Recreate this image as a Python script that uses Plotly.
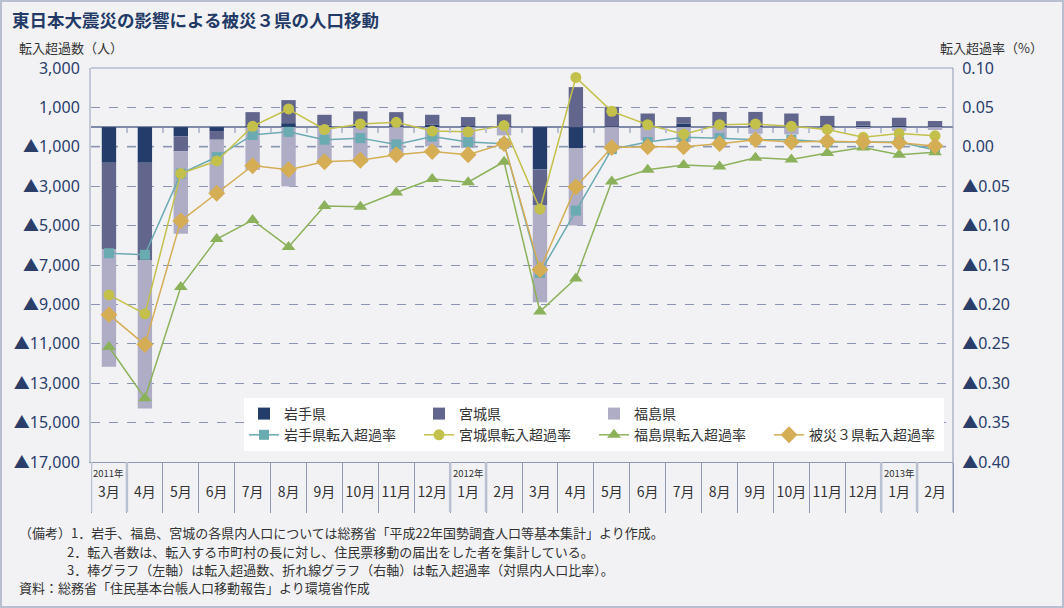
import plotly.graph_objects as go

# ---- data ----
periods = ["2011-03", "2011-04", "2011-05", "2011-06", "2011-07", "2011-08", "2011-09", "2011-10",
           "2011-11", "2011-12", "2012-01", "2012-02", "2012-03", "2012-04", "2012-05", "2012-06",
           "2012-07", "2012-08", "2012-09", "2012-10", "2012-11", "2012-12", "2013-01", "2013-02"]
month_labels = ["3月", "4月", "5月", "6月", "7月", "8月", "9月", "10月", "11月", "12月", "1月", "2月",
                "3月", "4月", "5月", "6月", "7月", "8月", "9月", "10月", "11月", "12月", "1月", "2月"]
year_labels = {"2011-03": "2011年", "2012-01": "2012年", "2013-01": "2013年"}

iwate = [-1810, -1810, -470, -200, 80, 200, 80, 80, 30, 135, 50, 30,
         -2150, -1080, 30, 30, 170, 30, 30, 30, 30, 80, 60, 20]
miyagi = [-4380, -4940, -760, -440, 680, 1170, 545, 720, 730, 490, 460, 615,
          -1830, 2030, 1000, 660, 340, 740, 740, 660, 540, 220, 415, 290]
fukushima = [-5975, -7530, -4180, -2740, -2170, -3010, -1740, -1810, -1320, -980, -1065, -420,
             -4910, -3910, -1050, -680, -760, -590, -340, -370, -150, -60, -200, -150]

rate_iwate = [-0.135, -0.137, -0.034, -0.013, 0.015, 0.019, 0.009, 0.011, 0.003, 0.013, 0.006, 0.004,
              -0.160, -0.081, -0.003, 0.006, 0.012, 0.011, 0.009, 0.009, 0.006, 0.006, 0.006, -0.004]
rate_miyagi = [-0.188, -0.212, -0.034, -0.018, 0.026, 0.048, 0.022, 0.029, 0.031, 0.020, 0.019, 0.027,
               -0.079, 0.088, 0.045, 0.028, 0.016, 0.028, 0.029, 0.026, 0.022, 0.012, 0.017, 0.014]
rate_fukushima = [-0.254, -0.319, -0.178, -0.117, -0.093, -0.127, -0.075, -0.076, -0.058, -0.041, -0.045, -0.019,
                  -0.209, -0.167, -0.044, -0.029, -0.023, -0.025, -0.014, -0.016, -0.008, -0.001, -0.010, -0.007]
rate_total = [-0.213, -0.251, -0.094, -0.059, -0.024, -0.029, -0.019, -0.017, -0.010, -0.006, -0.010, 0.004,
              -0.156, -0.051, -0.001, 0.000, 0.000, 0.004, 0.009, 0.006, 0.007, 0.006, 0.005, 0.001]

left_tickvals = [3000, 1000, -1000, -3000, -5000, -7000, -9000, -11000, -13000, -15000, -17000]
left_ticktext = ["3,000", "1,000", "▲1,000", "▲3,000", "▲5,000", "▲7,000", "▲9,000",
                 "▲11,000", "▲13,000", "▲15,000", "▲17,000"]
right_tickvals = [0.10, 0.05, 0.00, -0.05, -0.10, -0.15, -0.20, -0.25, -0.30, -0.35, -0.40]
right_ticktext = ["0.10", "0.05", "0.00", "▲0.05", "▲0.10", "▲0.15", "▲0.20",
                  "▲0.25", "▲0.30", "▲0.35", "▲0.40"]

title_text = "東日本大震災の影響による被災３県の人口移動"
left_title = "転入超過数（人）"
right_title = "転入超過率（%）"
notes = [
    "（備考）1．岩手、福島、宮城の各県内人口については総務省「平成22年国勢調査人口等基本集計」より作成。",
    "2．転入者数は、転入する市町村の長に対し、住民票移動の届出をした者を集計している。",
    "3．棒グラフ（左軸）は転入超過数、折れ線グラフ（右軸）は転入超過率（対県内人口比率）。",
    "資料：総務省「住民基本台帳人口移動報告」より環境省作成",
]

# ---- layout geometry ----
W, H = 1064, 608
ML, MR, MT, MB = 91, 111, 68, 146
PW, PH = W - ML - MR, H - MT - MB


def fx(px):
    return (px - ML) / PW


def fy(py):
    return (H - MB - py) / PH


JP = "Noto Sans CJK JP"
NUM = "Noto Sans, Noto Sans CJK JP"
BG = "#f2f2f5"

fig = go.Figure()

bar_specs = [("岩手県", iwate, "#243c6a"), ("宮城県", miyagi, "#62658c"), ("福島県", fukushima, "#aeadc5")]
for name, vals, col in bar_specs:
    fig.add_trace(go.Bar(x=periods, y=vals, name=name, marker=dict(color=col, line=dict(width=0)),
                         width=0.4, yaxis="y"))

# dummy entry to keep legend grid (bars row / lines row); lives on the zero-line tick axis
fig.add_trace(go.Scatter(x=[None], y=[None], mode="lines", name=" ",
                         line=dict(color="rgba(0,0,0,0)"), hoverinfo="skip", xaxis="x2", yaxis="y2"))

line_specs = [
    ("岩手県転入超過率", rate_iwate, "#6aaab1", "square", 10),
    ("宮城県転入超過率", rate_miyagi, "#c3c14b", "circle", 11),
    ("福島県転入超過率", rate_fukushima, "#8cb15b", "triangle-up", 12),
    ("被災３県転入超過率", rate_total, "#d5ad55", "diamond", 13),
]
for name, vals, col, sym, sz in line_specs:
    fig.add_trace(go.Scatter(x=periods, y=vals, name=name, mode="lines+markers", yaxis="y2",
                             line=dict(color=col, width=1.5),
                             marker=dict(symbol=sym, size=sz, color=col)))

shapes = []
# outer frame
shapes.append(dict(type="rect", xref="paper", yref="paper", x0=fx(1), x1=fx(W - 1), y0=fy(H - 1), y1=fy(1),
                   line=dict(color="#b7bfd0", width=2), fillcolor="rgba(0,0,0,0)", layer="below"))
# top border of plot
shapes.append(dict(type="line", xref="paper", yref="paper", x0=0, x1=1, y0=1, y1=1,
                   line=dict(color="#c3c9d6", width=2)))
# right border extended down through label strip
shapes.append(dict(type="line", xref="paper", yref="paper", x0=1, x1=1, y0=fy(512), y1=1,
                   line=dict(color="#8f99b7", width=1)))
# right-axis zero grid line (lighter, thicker dash)
shapes.append(dict(type="line", xref="paper", yref="y2", x0=0, x1=1, y0=0, y1=0, layer="below",
                   line=dict(color="#b3bace", width=2, dash="dash")))
# lighter separators around year cells
for p in year_labels:
    i = periods.index(p)
    for b in (i - 0.5, i + 0.5):
        shapes.append(dict(type="line", xref="x", yref="paper", x0=b, x1=b, y0=0, y1=fy(512),
                           line=dict(color="#b9c0d2", width=2.5)))

annotations = []
for p, t in year_labels.items():
    annotations.append(dict(x=p, y=fy(473), xref="x", yref="paper", text=t, showarrow=False,
                            xanchor="center", yanchor="middle",
                            font=dict(family=JP, size=9.5, color="#333333")))
annotations.append(dict(x=fx(17), y=fy(47), xref="paper", yref="paper", text=left_title, showarrow=False,
                        xanchor="left", yanchor="middle", font=dict(family=JP, size=13, color="#333333")))
annotations.append(dict(x=fx(1045), y=fy(47), xref="paper", yref="paper", text=right_title, showarrow=False,
                        xanchor="right", yanchor="middle", font=dict(family=JP, size=13, color="#333333")))
note_pos = [(17, 532), (65, 551), (65, 569), (17, 587)]
for (nx, ny), t in zip(note_pos, notes):
    annotations.append(dict(x=fx(nx), y=fy(ny), xref="paper", yref="paper", text=t, showarrow=False,
                            xanchor="left", yanchor="middle", font=dict(family=JP, size=13, color="#333333")))

fig.update_layout(
    width=W, height=H,
    margin=dict(l=ML, r=MR, t=MT, b=MB, autoexpand=False),
    paper_bgcolor=BG, plot_bgcolor=BG,
    barmode="relative",
    bargap=0.6,
    title=dict(text="<b>" + title_text + "</b>", x=12 / W, y=1 - 20.5 / H, xref="container", yref="container",
               xanchor="left", yanchor="middle", font=dict(family=JP, size=17.5, color="#233a66")),
    showlegend=True,
    legend=dict(orientation="h", x=fx(244), y=fy(398), xanchor="left", yanchor="top",
                bgcolor="#ffffff", borderwidth=0, traceorder="normal",
                entrywidth=130, entrywidthmode="pixels", itemwidth=30,
                font=dict(family=JP, size=14, color="#333333")),
    xaxis=dict(type="category", categoryorder="array", categoryarray=periods,
               tickmode="array", tickvals=periods, ticktext=month_labels,
               range=[-0.5, len(periods) - 0.5], tickangle=0,
               tickson="boundaries", ticks="outside", ticklen=50, tickcolor="#8f99b7", tickwidth=1,
               ticklabelstandoff=17,
               showline=True, linecolor="#8f99b7", linewidth=1, showgrid=False, zeroline=False,
               tickfont=dict(family=JP, size=14, color="#333333")),
    xaxis2=dict(overlaying="x", anchor="free", position=(0 - (-17000)) / 20000, type="linear",
                range=[-0.5, len(periods) - 0.5],
                tickmode="array", tickvals=[k + 0.5 for k in range(len(periods) - 1)],
                ticks="outside", ticklen=5, tickwidth=2, tickcolor="#b9c0d2",
                showticklabels=False, showgrid=False, showline=False, zeroline=False),
    yaxis=dict(range=[-17000, 3000], tickmode="array", tickvals=left_tickvals, ticktext=left_ticktext,
               showgrid=True, gridcolor="#8b95b3", griddash="dash", gridwidth=1,
               zeroline=True, zerolinecolor="#7f89a8", zerolinewidth=1.5,
               showline=True, linecolor="#c3c9d6", linewidth=2,
               ticks="outside", ticklen=6, tickcolor="rgba(0,0,0,0)",
               tickfont=dict(family=NUM, size=16, color="#2b3e6a")),
    yaxis2=dict(range=[-0.40, 0.10], overlaying="y", side="right", anchor="x",
                tickmode="array", tickvals=right_tickvals, ticktext=right_ticktext,
                showgrid=False, zeroline=False, showline=False,
                ticks="outside", ticklen=5, tickcolor="rgba(0,0,0,0)",
                tickfont=dict(family=NUM, size=16, color="#2b3e6a")),
    shapes=shapes,
    annotations=annotations,
)

fig.write_html("out.html", config={"displayModeBar": False},
               post_script="document.body.style.margin='0';document.body.style.overflow='hidden';")
